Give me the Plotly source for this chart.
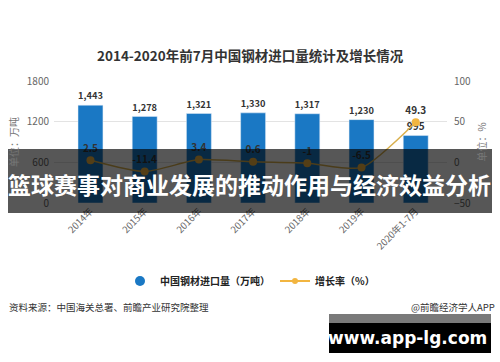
import plotly.graph_objects as go

categories = ["2014年", "2015年", "2016年", "2017年", "2018年", "2019年", "2020年1-7月"]
imports = [1443, 1278, 1321, 1330, 1317, 1230, 995]
growth = [2.5, -11.4, 3.4, 0.6, -1, -6.5, 49.3]
left_ticks = [0, 600, 1200, 1800]
right_ticks = [-50, 0, 50, 100]

FONT = "Noto Sans CJK SC"
BLUE = "#1a78c4"
GOLD = "#f2b540"

# plot area in pixels
L, R, T, B = 54, 447, 81, 203
W, H = 500, 362


def px(x):
    return (x - L) / (R - L)


def py(y):
    return (B - y) / (B - T)


fig = go.Figure()
fig.add_trace(go.Bar(
    x=categories, y=imports, marker_color=BLUE, width=0.46,
    text=[f"{v:,}" for v in imports], textposition="outside",
    textfont=dict(size=10, color="#333333", family=FONT, weight="bold"),
    cliponaxis=False, showlegend=False,
))
fig.add_trace(go.Scatter(
    x=categories, y=growth, yaxis="y2", mode="lines+markers+text",
    line=dict(color="#d9b04e", width=1.5, shape="spline", smoothing=0.6),
    marker=dict(color=GOLD, size=8),
    text=[str(v) for v in growth], textposition="top center",
    textfont=dict(size=10, color="#333333", family=FONT, weight="bold"),
    cliponaxis=False, showlegend=False,
))
# legend entries
fig.add_trace(go.Scatter(x=[None], y=[None], mode="markers",
                         marker=dict(color=BLUE, size=10, symbol="circle"),
                         name="中国钢材进口量（万吨）"))
fig.add_trace(go.Scatter(x=[None], y=[None], mode="lines+markers", yaxis="y2",
                         line=dict(color=GOLD, width=2),
                         marker=dict(color=GOLD, size=6),
                         name="增长率（%）"))

fig.update_layout(
    width=W, height=H,
    margin=dict(l=L, r=W - R, t=T, b=H - B, autoexpand=False),
    paper_bgcolor="white", plot_bgcolor="white",
    font=dict(family=FONT, color="#555555", size=10),
    xaxis=dict(type="category", range=[-0.673, 6.577], tickangle=-45,
               tickfont=dict(size=9.5, color="#666666"), showgrid=False,
               showline=False, ticks="", zeroline=False),
    yaxis=dict(range=[0, 1800], tickvals=left_ticks, showgrid=True,
               gridcolor="#e3e3e3", gridwidth=1, zeroline=False,
               tickfont=dict(size=10, color="#666666"), ticklabelstandoff=4,
               title=dict(text="单位：万吨", font=dict(size=10, color="#777777"), standoff=6)),
    yaxis2=dict(range=[-50, 100], tickvals=right_ticks, overlaying="y", side="right",
                showgrid=False, zeroline=False,
                tickfont=dict(size=10, color="#666666"), ticklabelstandoff=6,
                title=dict(text="单位：%", font=dict(size=10, color="#777777"), standoff=8)),
    legend=dict(orientation="h", x=px(250), xanchor="center", y=py(281), yanchor="middle",
                font=dict(size=10, color="#222222", weight="bold"), bgcolor="rgba(0,0,0,0)",
                tracegroupgap=0),
    bargap=0.4,
)

shapes = [
    dict(type="rect", xref="paper", yref="paper", x0=px(8), x1=px(492), y0=py(149), y1=py(213),
         fillcolor="rgba(0,0,0,0.66)", line=dict(width=0), layer="above"),
    dict(type="rect", xref="paper", yref="paper", x0=px(329), x1=px(491), y0=py(314), y1=py(323),
         fillcolor="#7a7a7a", line=dict(width=0), layer="above"),
    dict(type="rect", xref="paper", yref="paper", x0=px(329), x1=px(491), y0=py(323), y1=py(353),
         fillcolor="#000000", line=dict(width=0), layer="above"),
]
fig.update_layout(shapes=shapes)

annotations = [
    dict(text="2014-2020年前7月中国钢材进口量统计及增长情况", x=px(250), y=py(55),
         font=dict(size=13.5, color="#333333", family=FONT, weight="bold")),
    dict(text="篮球赛事对商业发展的推动作用与经济效益分析", x=px(249), y=py(184),
         font=dict(size=23, color="white", family=FONT, weight="bold")),
    dict(text="资料来源：中国海关总署、前瞻产业研究院整理", x=px(7), y=py(307), xanchor="left",
         font=dict(size=9.5, color="#333333", family=FONT)),
    dict(text="@前瞻经济学人APP", x=px(497), y=py(307), xanchor="right",
         font=dict(size=9.5, color="#333333", family=FONT)),
    dict(text="www.app-lg.com", x=px(407), y=py(338),
         font=dict(size=17, color="white", family="DejaVu Sans", weight="bold")),
]
for a in annotations:
    a.update(xref="paper", yref="paper", showarrow=False)
    a.setdefault("xanchor", "center")
    a["yanchor"] = "middle"
fig.update_layout(annotations=annotations)

fig.write_html("out.html", config={"displayModeBar": False},
               post_script="document.body.style.margin='0';")
